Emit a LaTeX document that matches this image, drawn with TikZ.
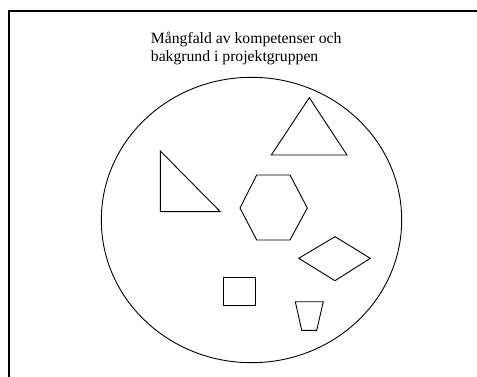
\documentclass[tikz,border=0pt]{standalone}
\usepackage{fontspec}
\setmainfont{Liberation Serif}
\begin{document}
\begin{tikzpicture}[x=1pt,y=-1pt,
  outline/.style={draw=black,line width=0.9pt,line join=miter},
  frameline/.style={draw=black,line width=2pt},
  titletext/.style={anchor=base west,inner sep=0pt,font=\fontsize{15.7}{18}\selectfont}]
\useasboundingbox (0,0) rectangle (477,377);
% frame (left and top only)
\draw[frameline] (9,377) -- (9,11) -- (477,11);
% title
\node[titletext] (title1) at (150.7,43.3) {Mångfald av kompetenser och};
\node[titletext] (title2) at (150.7,61.6) {bakgrund i projektgruppen};
% ellipse
\draw[outline] (251.5,220) ellipse [x radius=150.2,y radius=142.7];
% triangle
\draw[outline] (309.3,97.7) -- (347,155) -- (271.3,155) -- cycle;
% right triangle
\draw[outline] (160.3,151) -- (220.3,211.7) -- (160.3,211.7) -- cycle;
% hexagon
\draw[outline] (256.7,175) -- (290,175) -- (307.3,208) -- (290,240) -- (256.7,240) -- (240,208) -- cycle;
% diamond
\draw[outline] (335,236.7) -- (370.3,258.3) -- (335,280.7) -- (298.7,258.3) -- cycle;
% square
\draw[outline] (223.7,277) rectangle (255.7,305.3);
% trapezoid
\draw[outline] (295.3,301.7) -- (323.3,301.7) -- (316.7,330.3) -- (301.7,330.3) -- cycle;
\end{tikzpicture}
\end{document}
